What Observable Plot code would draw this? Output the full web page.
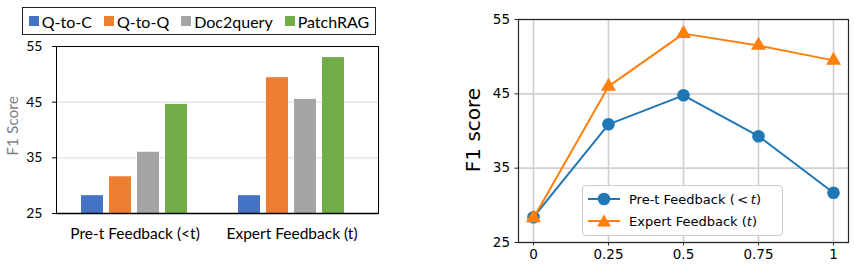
<!DOCTYPE html>
<html><head><meta charset="utf-8">
<script src="https://cdn.jsdelivr.net/npm/d3@7"></script>
<script src="https://cdn.jsdelivr.net/npm/@observablehq/plot@0.6"></script>
<style>
body{margin:0;background:#fff;}
#wrap{position:relative;width:855px;height:265px;overflow:hidden;background:#fff;}
#wrap > svg{position:absolute;}
.lg1{position:absolute;left:22px;top:7px;width:352px;height:26px;border:1px solid #222;display:flex;align-items:center;justify-content:center;gap:12px;font-family:Lato;font-size:16px;color:#000;box-sizing:content-box;}
.lg1 .it{display:flex;align-items:center;}
.lg1 .sw{width:10px;height:10px;margin-right:3px;}
.ylab1{position:absolute;left:12px;top:126px;transform:translate(-50%,-50%) rotate(-90deg);font-family:Lato;font-size:15.5px;color:#7f7f7f;white-space:nowrap;}
.ylab2{position:absolute;left:473px;top:130px;transform:translate(-50%,-50%) rotate(-90deg);font-family:"DejaVu Sans";font-size:20px;color:#000;white-space:nowrap;}
.lg2{position:absolute;left:582px;top:185px;width:199px;height:49px;border:1px solid #ccc;border-radius:4px;background:rgba(255,255,255,0.85);font-family:"DejaVu Sans";font-size:13px;color:#000;}
.lg2 .row{position:absolute;left:5px;display:flex;align-items:center;}
.lg2 svg{margin-right:9px;}
</style></head><body><div id="wrap"></div>
<script>
// ---- data: left bar chart ----
const groups = ["Pre-t Feedback (<t)", "Expert Feedback (t)"];
const methods = ["Q-to-C", "Q-to-Q", "Doc2query", "PatchRAG"];
const methodColors = ["#4472C4", "#ED7D31", "#A5A5A5", "#70AD47"];
const preValues = [28.2, 31.6, 36.0, 44.6];
const expertValues = [28.2, 49.4, 45.5, 53.0];
const yTicks = [25, 35, 45, 55];

// ---- data: right line chart ----
const alphas = [0, 0.25, 0.5, 0.75, 1];
const preSeries = [28.4, 40.9, 44.8, 39.3, 31.7];
const expertSeries = [28.3, 46.0, 53.1, 51.5, 49.5];
const seriesNames = ["Pre-t Feedback", "Expert Feedback"];
const seriesColors = ["#1f77b4", "#ff7f0e"];

const wrap = document.getElementById("wrap");

const barData = groups.flatMap((g, gi) =>
  methods.map((m, mi) => ({group: g, method: m, value: [preValues, expertValues][gi][mi]})));

const leftDims = {width: 400, height: 265, marginLeft: 56, marginRight: 22, marginTop: 46, marginBottom: 52};
const leftStyle = {fontFamily: "Lato", fontSize: "14px", color: "#000", background: "transparent", overflow: "visible"};

// underlay: gridlines + y axis
const leftBase = Plot.plot({
  ...leftDims, style: leftStyle,
  y: {domain: [25, 55], label: null, axis: null},
  marks: [
    Plot.gridY([35, 45], {stroke: "#d9d9d9", strokeOpacity: 1, strokeWidth: 1}),
    Plot.axisY(yTicks, {tickSize: 4, tickPadding: 10, label: null, fontSize: 14})
  ]
});
leftBase.style.left = "0px"; leftBase.style.top = "0px";
wrap.appendChild(leftBase);

// bars faceted by group
const left = Plot.plot({
  ...leftDims, style: leftStyle,
  fx: {domain: groups, paddingInner: 0.316, paddingOuter: 0.18, align: 0.44, label: null},
  x: {domain: methods, paddingInner: 0.2, paddingOuter: 0, axis: null},
  y: {domain: [25, 55], label: null, axis: null},
  color: {domain: methods, range: methodColors},
  marks: [
    Plot.barY(barData, {fx: "group", x: "method", y1: 25, y2: "value", fill: "method"}),
    Plot.axisFx({anchor: "bottom", tickSize: 0, tickPadding: 14, fontSize: 15.5, label: null})
  ]
});
left.style.left = "0px"; left.style.top = "0px";
wrap.appendChild(left);

// frame on top
const leftFrame = Plot.plot({
  ...leftDims, style: leftStyle,
  y: {domain: [25, 55], axis: null},
  marks: [
    Plot.frame({stroke: "#000", strokeWidth: 1}),
    Plot.ruleY([25], {stroke: "#000", strokeWidth: 1.5})
  ]
});
leftFrame.style.left = "0px"; leftFrame.style.top = "0px";
wrap.appendChild(leftFrame);

// left legend
const lg1 = document.createElement("div");
lg1.className = "lg1";
methods.forEach((m, i) => {
  const it = document.createElement("div"); it.className = "it";
  const sw = document.createElement("div"); sw.className = "sw"; sw.style.background = methodColors[i];
  const tx = document.createElement("span"); tx.textContent = m;
  it.appendChild(sw); it.appendChild(tx); lg1.appendChild(it);
});
wrap.appendChild(lg1);
const yl1 = document.createElement("div"); yl1.className = "ylab1"; yl1.textContent = "F1 Score"; wrap.appendChild(yl1);

// right line chart
const lineData = [
  ...alphas.map((a, i) => ({series: seriesNames[0], alpha: a, value: preSeries[i]})),
  ...alphas.map((a, i) => ({series: seriesNames[1], alpha: a, value: expertSeries[i]}))
];
const preData = lineData.filter(d => d.series === seriesNames[0]);
const expData = lineData.filter(d => d.series === seriesNames[1]);

const right = Plot.plot({
  width: 415, height: 265,
  marginLeft: 78, marginRight: 7, marginTop: 19, marginBottom: 23,
  style: {fontFamily: "DejaVu Sans", fontSize: "13.5px", color: "#000", background: "transparent", overflow: "visible"},
  x: {domain: [-0.05, 1.05], axis: null},
  y: {domain: [25, 55], axis: null},
  marks: [
    Plot.gridX(alphas, {stroke: "#cfcfcf", strokeOpacity: 1, strokeWidth: 1.6}),
    Plot.gridY(yTicks, {stroke: "#cfcfcf", strokeOpacity: 1, strokeWidth: 1.6}),
    Plot.frame({stroke: "#262626", strokeWidth: 1.2}),
    Plot.axisX(alphas, {tickSize: 3.5, tickPadding: 3.5, tickFormat: d => String(d), label: null, stroke: "#262626"}),
    Plot.axisY(yTicks, {tickSize: 3.5, tickPadding: 5, label: null, stroke: "#262626"}),
    Plot.line(preData, {x: "alpha", y: "value", stroke: seriesColors[0], strokeWidth: 2}),
    Plot.dot(preData, {x: "alpha", y: "value", r: 6.3, fill: seriesColors[0], symbol: "circle"}),
    Plot.line(expData, {x: "alpha", y: "value", stroke: seriesColors[1], strokeWidth: 2}),
    Plot.dot(expData, {x: "alpha", y: "value", r: 5.6, fill: seriesColors[1], symbol: "triangle"})
  ]
});
right.style.left = "440px"; right.style.top = "0px";
wrap.appendChild(right);

const yl2 = document.createElement("div"); yl2.className = "ylab2"; yl2.textContent = "F1 score"; wrap.appendChild(yl2);

// right legend
const lg2 = document.createElement("div"); lg2.className = "lg2";
const labelsHtml = ["Pre-t Feedback (&thinsp;&lt;&thinsp;<i>t</i>)", "Expert Feedback (<i>t</i>)"];
[0, 1].forEach(i => {
  const row = document.createElement("div"); row.className = "row"; row.style.top = (i === 0 ? 5 : 27) + "px";
  const marker = i === 0
    ? `<circle cx="16" cy="8" r="6.3" fill="${seriesColors[0]}"/>`
    : `<path d="M16,1.5 L23,13.5 L9,13.5 Z" fill="${seriesColors[1]}"/>`;
  row.innerHTML = `<svg width="32" height="16"><line x1="0" x2="32" y1="8" y2="8" stroke="${seriesColors[i]}" stroke-width="2"/>${marker}</svg><span>${labelsHtml[i]}</span>`;
  lg2.appendChild(row);
});
wrap.appendChild(lg2);
</script></body></html>
